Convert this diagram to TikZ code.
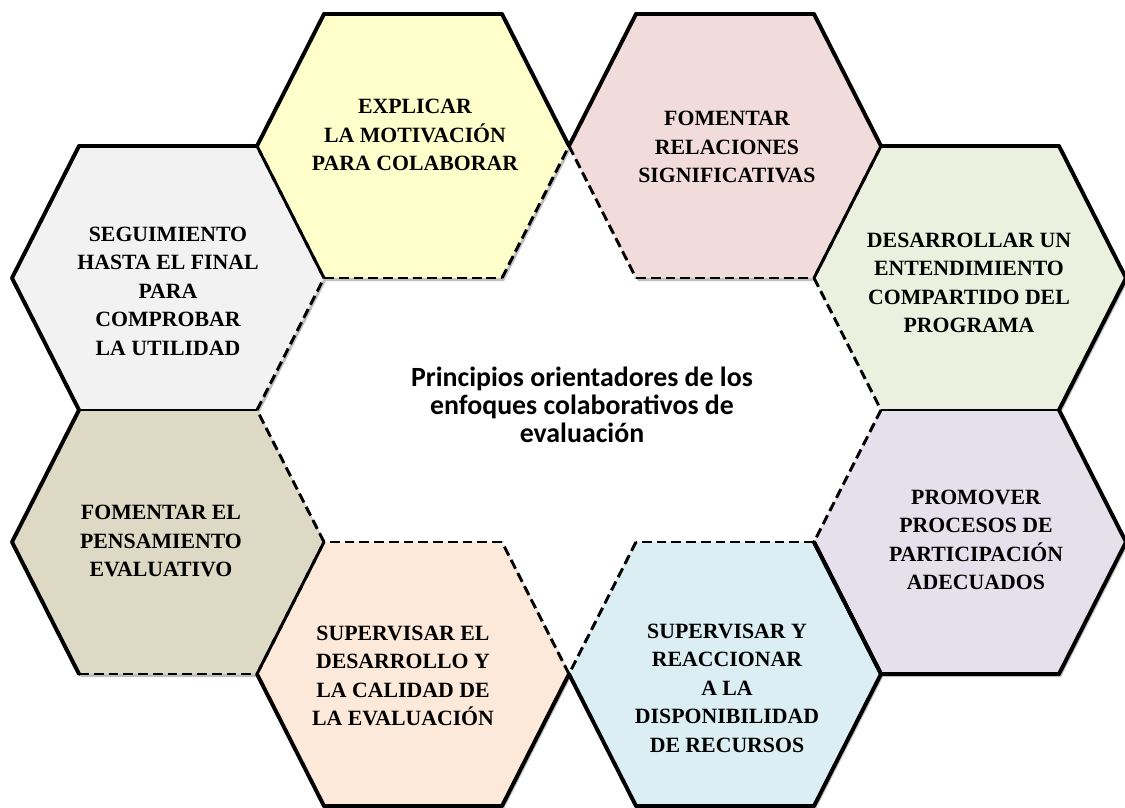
\documentclass[tikz,border=0pt]{standalone}
\usepackage{fontspec}
\newfontfamily\cellfont{Liberation Serif}
\newfontfamily\titlefont{Carlito}
\usetikzlibrary{calc}

\definecolor{cellgray}{HTML}{F2F2F2}
\definecolor{cellyellow}{HTML}{FFFFCC}
\definecolor{cellpink}{HTML}{F2DCDB}
\definecolor{cellgreen}{HTML}{EBF1DE}
\definecolor{cellpurple}{HTML}{E5E0EC}
\definecolor{cellblue}{HTML}{DAEEF3}
\definecolor{cellpeach}{HTML}{FDE9D9}
\definecolor{cellolive}{HTML}{DDD9C4}

\begin{document}
\begin{tikzpicture}[x=0.025cm, y=-0.025cm]
  \newcommand\hexw{156}
  \newcommand\hexa{89}
  \newcommand\hexh{132}

  \tikzset{hexrim/.style={line width=2.8pt, line cap=round, line join=round}}
  \tikzset{hexseam/.style={line width=2.1pt, dash pattern=on 7pt off 3.5pt}}
  \tikzset{hexshadow/.style={black, opacity=0.25}}
  \tikzset{hexlabel/.style={font=\cellfont\bfseries\fontsize{15.5}{20.3}\selectfont, align=center, inner sep=0pt}}
  \tikzset{titlelabel/.style={font=\titlefont\bfseries\fontsize{19.8}{20}\selectfont, align=center, inner sep=0pt}}

  \useasboundingbox (0,0) rectangle (1125,808);

  % cells: name/fill/centre
  \foreach \cell/\cx/\cy in {gray/168/278, yellow/413/146, pink/725/146, green/970/278,
      purple/970/542, blue/725/674, peach/413/674, olive/168/542}{
    \coordinate (\cell) at (\cx,\cy);
    \coordinate (\cell-0) at ($(\cell)+(\hexw,0)$);
    \coordinate (\cell-1) at ($(\cell)+(\hexa,-\hexh)$);
    \coordinate (\cell-2) at ($(\cell)+(-\hexa,-\hexh)$);
    \coordinate (\cell-3) at ($(\cell)+(-\hexw,0)$);
    \coordinate (\cell-4) at ($(\cell)+(-\hexa,\hexh)$);
    \coordinate (\cell-5) at ($(\cell)+(\hexa,\hexh)$);
    \fill[hexshadow, transform canvas={shift={(0.05cm,-0.075cm)}}]
      (\cell-0) -- (\cell-1) -- (\cell-2) -- (\cell-3) -- (\cell-4) -- (\cell-5) -- cycle;
  }
  \foreach \cell/\col in {gray/cellgray, yellow/cellyellow, pink/cellpink, green/cellgreen,
      purple/cellpurple, blue/cellblue, peach/cellpeach, olive/cellolive}{
    \fill[\col] (\cell-0) -- (\cell-1) -- (\cell-2) -- (\cell-3) -- (\cell-4) -- (\cell-5) -- cycle;
  }

  % sides: upper right, top, upper left, lower left, bottom, lower right
  \foreach \cell/\sides in {
      gray/{hexseam,hexrim,hexrim,hexrim,hexseam,hexseam},
      yellow/{hexrim,hexrim,hexrim,hexseam,hexseam,hexseam},
      pink/{hexrim,hexrim,hexrim,hexseam,hexseam,hexseam},
      green/{hexrim,hexrim,hexseam,hexseam,hexseam,hexrim},
      purple/{hexrim,hexseam,hexseam,hexrim,hexrim,hexrim},
      blue/{hexrim,hexseam,hexseam,hexrim,hexrim,hexrim},
      peach/{hexseam,hexseam,hexseam,hexrim,hexrim,hexrim},
      olive/{hexseam,hexseam,hexrim,hexrim,hexseam,hexseam}}{
    \foreach \side [count=\i from 0] in \sides {
      \pgfmathtruncatemacro\j{mod(\i+1,6)}
      \draw[\side] (\cell-\i) -- (\cell-\j);
    }
  }

  % labels
  \node[hexlabel] (gray-txt) at (168,291) {SEGUIMIENTO\\HASTA EL FINAL\\PARA\\COMPROBAR\\LA UTILIDAD};
  \node[hexlabel] (yellow-txt) at (415,135) {EXPLICAR\\LA MOTIVACIÓN\\PARA COLABORAR};
  \node[hexlabel] (pink-txt) at (727,147) {FOMENTAR\\RELACIONES\\SIGNIFICATIVAS};
  \node[hexlabel] (green-txt) at (969,283) {DESARROLLAR UN\\ENTENDIMIENTO\\COMPARTIDO DEL\\PROGRAMA};
  \node[hexlabel] (purple-txt) at (976,540) {PROMOVER\\PROCESOS DE\\PARTICIPACIÓN\\ADECUADOS};
  \node[hexlabel] (blue-txt) at (727,688) {SUPERVISAR Y\\REACCIONAR\\A LA\\DISPONIBILIDAD\\DE RECURSOS};
  \node[hexlabel] (peach-txt) at (403,676) {SUPERVISAR EL\\DESARROLLO Y\\LA CALIDAD DE\\LA EVALUACIÓN};
  \node[hexlabel] (olive-txt) at (161,541) {FOMENTAR EL\\PENSAMIENTO\\EVALUATIVO};

  \node[titlelabel] (title) at (582,405) {Principios orientadores de los\\enfoques colaborativos de\\evaluación};
\end{tikzpicture}
\end{document}
